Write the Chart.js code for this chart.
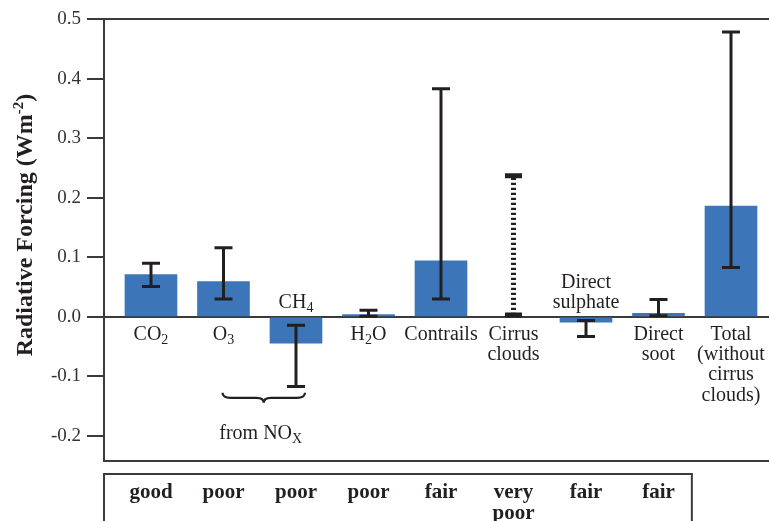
<!DOCTYPE html>
<html>
<head>
<meta charset="utf-8">
<script src="https://cdn.jsdelivr.net/npm/chart.js@4.4.1/dist/chart.umd.min.js"></script>
<style>
  html, body { margin: 0; padding: 0; background: #fff; }
  #wrap { width: 769px; height: 521px; position: relative; }
</style>
</head>
<body>
<div id="wrap"><canvas id="chart"></canvas></div>
<script>
// Data. {x} marks a subscript.
const categories = [['CO{2}'], ['O{3}'], ['CH{4}'], ['H{2}O'], ['Contrails'], ['Cirrus', 'clouds'],
    ['Direct', 'sulphate'], ['Direct', 'soot'], ['Total', '(without', 'cirrus', 'clouds)']];
const forcing = [0.071, 0.059, -0.044, 0.004, 0.094, null, -0.009, 0.006, 0.186];
const errLow = [0.051, 0.030, -0.117, 0.001, 0.030, 0.003, -0.033, 0.002, 0.083];
const errHigh = [0.090, 0.116, -0.014, 0.011, 0.383, 0.237, -0.006, 0.029, 0.478];
const understanding = [['good'], ['poor'], ['poor'], ['poor'], ['fair'], ['very', 'poor'], ['fair'], ['fair']];
const yTickValues = [-0.2, -0.1, 0, 0.1, 0.2, 0.3, 0.4, 0.5];

const INK = '#231f20';
const AXIS = '#3a3a3a';
const SERIF = '"Liberation Serif", "DejaVu Serif", serif';
const dottedIndex = 5; // cirrus uncertainty drawn dotted

// draw a string with {sub} parts, centred on x, baseline y
function drawRich(ctx, str, x, y, size, bold) {
    const parts = [];
    str.replace(/([^{]+)|\{([^}]*)\}/g, (m, a, b) => {
        parts.push(a !== undefined ? [a, false] : [b, true]);
    });
    const w = bold ? 'bold ' : '';
    const subSize = Math.round(size * 0.68);
    let total = 0;
    parts.forEach(p => {
        ctx.font = w + (p[1] ? subSize : size) + 'px ' + SERIF;
        total += ctx.measureText(p[0]).width;
    });
    let cx = x - total / 2;
    ctx.textAlign = 'left';
    ctx.textBaseline = 'alphabetic';
    parts.forEach(p => {
        ctx.font = w + (p[1] ? subSize : size) + 'px ' + SERIF;
        ctx.fillText(p[0], cx, p[1] ? y + size * 0.22 : y);
        cx += ctx.measureText(p[0]).width;
    });
}

const extras = {
    id: 'extras',
    afterDatasetsDraw(chart) {
        const { ctx, chartArea, scales: { x: xs, y: ys } } = chart;
        ctx.save();

        // error bars
        ctx.strokeStyle = INK;
        errLow.forEach((lo, i) => {
            const px = xs.getPixelForValue(i);
            const yl = ys.getPixelForValue(lo);
            const yh = ys.getPixelForValue(errHigh[i]);
            const dotted = i === dottedIndex;
            ctx.lineWidth = dotted ? 5 : 3;
            ctx.setLineDash(dotted ? [2.3, 2.7] : []);
            ctx.beginPath();
            ctx.moveTo(px, yl);
            ctx.lineTo(px, yh);
            ctx.stroke();
            ctx.setLineDash([]);
            const half = dotted ? 8.5 : 9;
            ctx.beginPath();
            ctx.moveTo(px - half, yl); ctx.lineTo(px + half, yl);
            ctx.moveTo(px - half, yh); ctx.lineTo(px + half, yh);
            ctx.stroke();
        });

        // category labels near the zero line
        ctx.fillStyle = INK;
        const y0 = ys.getPixelForValue(0);
        const lineH = 20.3;
        categories.forEach((lines, i) => {
            const px = xs.getPixelForValue(i);
            if (forcing[i] !== null && forcing[i] < 0) {
                lines.forEach((t, k) => {
                    drawRich(ctx, t, px, y0 - 9 - (lines.length - 1 - k) * lineH, 20, false);
                });
            } else {
                lines.forEach((t, k) => {
                    drawRich(ctx, t, px, y0 + 23 + k * lineH, 20, false);
                });
            }
        });

        // brace grouping O3 and CH4
        const bl = xs.getPixelForValue(1) - 1;
        const br = xs.getPixelForValue(2) + 9;
        const bm = (bl + br) / 2;
        const by = y0 + 81;
        ctx.lineWidth = 2.2;
        ctx.beginPath();
        ctx.moveTo(bl, by - 5);
        ctx.quadraticCurveTo(bl, by, bl + 8, by);
        ctx.lineTo(bm - 7, by);
        ctx.quadraticCurveTo(bm, by, bm, by + 5);
        ctx.quadraticCurveTo(bm, by, bm + 7, by);
        ctx.lineTo(br - 8, by);
        ctx.quadraticCurveTo(br, by, br, by - 5);
        ctx.stroke();
        drawRich(ctx, 'from NO{X}', bm - 3, y0 + 122, 20, false);

        // y axis title with superscript
        ctx.save();
        ctx.translate(32, 225);
        ctx.rotate(-Math.PI / 2);
        ctx.textBaseline = 'alphabetic';
        ctx.textAlign = 'left';
        const t1 = 'Radiative Forcing (Wm', t2 = '-2', t3 = ')';
        ctx.font = 'bold 24px ' + SERIF;
        const w1 = ctx.measureText(t1).width, w3 = ctx.measureText(t3).width;
        ctx.font = 'bold 15px ' + SERIF;
        const w2 = ctx.measureText(t2).width;
        let sx = -(w1 + w2 + w3) / 2;
        ctx.font = 'bold 24px ' + SERIF;
        ctx.fillText(t1, sx, 0);
        ctx.font = 'bold 15px ' + SERIF;
        ctx.fillText(t2, sx + w1, -9);
        ctx.font = 'bold 24px ' + SERIF;
        ctx.fillText(t3, sx + w1 + w2, 0);
        ctx.restore();

        // level of understanding table
        const tTop = chartArea.bottom + 13;
        const tLeft = chartArea.left;
        const tRight = xs.getPixelForValue(7.46);
        ctx.strokeStyle = AXIS;
        ctx.lineWidth = 2;
        ctx.beginPath();
        ctx.moveTo(tLeft, chart.height + 5);
        ctx.lineTo(tLeft, tTop);
        ctx.lineTo(tRight, tTop);
        ctx.lineTo(tRight, chart.height + 5);
        ctx.stroke();
        understanding.forEach((lines, i) => {
            const px = xs.getPixelForValue(i);
            lines.forEach((t, k) => {
                drawRich(ctx, t, px, tTop + 24 + k * 21, 21, true);
            });
        });

        ctx.restore();
    }
};

new Chart(document.getElementById('chart'), {
    type: 'bar',
    data: {
        datasets: [{
            data: forcing.map((v, i) => ({ x: i, y: v })),
            backgroundColor: '#3c76b9',
            borderWidth: 0,
            barThickness: 52
        }]
    },
    options: {
        responsive: true,
        maintainAspectRatio: false,
        animation: false,
        layout: { padding: { top: 19, right: 0, bottom: 60, left: 0 } },
        plugins: { legend: { display: false }, tooltip: { enabled: false } },
        scales: {
            x: {
                type: 'linear',
                offset: false,
                min: -0.648,
                max: 8.524,
                afterFit: s => { s.height = 0; s.paddingLeft = 0; s.paddingRight = 0; },
                ticks: { display: false },
                grid: { display: false },
                border: { display: true, color: AXIS, width: 2 }
            },
            y: {
                min: -0.242,
                max: 0.5,
                afterFit: s => { s.width = 104; s.paddingTop = 0; s.paddingBottom = 0; },
                afterBuildTicks: s => { s.ticks = yTickValues.map(v => ({ value: v })); },
                ticks: {
                    padding: 6,
                    color: '#333',
                    font: { family: SERIF, size: 19 },
                    callback: v => v.toFixed(1)
                },
                grid: {
                    drawTicks: true,
                    tickLength: 17,
                    lineWidth: 2,
                    tickColor: AXIS,
                    color: c => (c.tick && (Math.abs(c.tick.value) < 1e-9 || Math.abs(c.tick.value - 0.5) < 1e-9)) ? AXIS : 'rgba(0,0,0,0)'
                },
                border: { display: true, color: AXIS, width: 2 }
            }
        }
    },
    plugins: [extras]
});
</script>
</body>
</html>
